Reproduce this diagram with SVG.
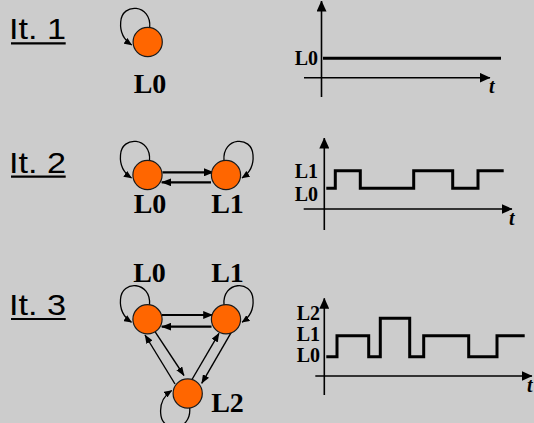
<svg xmlns="http://www.w3.org/2000/svg" width="534" height="423" viewBox="0 0 534 423">
<style>
.bg{fill:#cccccc}
.it{font-family:"Liberation Sans",Arial,sans-serif;font-size:29px;fill:#000}
.ul{stroke:#000;stroke-width:2.2}
.nd{fill:#ff6600;stroke:#1a1a1a;stroke-width:1.2}
.lb{font-family:"Liberation Serif","Times New Roman",serif;font-weight:bold;font-size:28px;fill:#000;text-anchor:middle}
.cl{font-family:"Liberation Serif","Times New Roman",serif;font-weight:bold;font-size:20px;fill:#000;text-anchor:end}
.tt{font-family:"Liberation Serif","Times New Roman",serif;font-style:italic;font-weight:bold;font-size:20px;fill:#000}
.loop{fill:none;stroke:#000;stroke-width:1.3;marker-end:url(#la)}
.h{fill:none;stroke:#000;stroke-width:2.2;marker-end:url(#ha)}
.d{fill:none;stroke:#000;stroke-width:1.4;marker-end:url(#da)}
.ax{fill:none;stroke:#000;stroke-width:1.6;marker-end:url(#aa)}
.sig{fill:none;stroke:#000;stroke-width:3;stroke-linejoin:miter}
</style>
<defs>
<marker id="la" viewBox="0 0 8 7" refX="7.5" refY="3.5" markerWidth="8" markerHeight="7" orient="auto" markerUnits="userSpaceOnUse"><path d="M0,0 L8,3.5 L0,7 z" fill="#000"/></marker>
<marker id="ha" viewBox="0 0 10 8" refX="9.5" refY="4" markerWidth="10" markerHeight="8" orient="auto" markerUnits="userSpaceOnUse"><path d="M0,0 L10,4 L0,8 z" fill="#000"/></marker>
<marker id="da" viewBox="0 0 9 7" refX="8.5" refY="3.5" markerWidth="9" markerHeight="7" orient="auto" markerUnits="userSpaceOnUse"><path d="M0,0 L9,3.5 L0,7 z" fill="#000"/></marker>
<marker id="aa" viewBox="0 0 11 10" refX="10.5" refY="5" markerWidth="11" markerHeight="10" orient="auto" markerUnits="userSpaceOnUse"><path d="M0,0 L11,5 L0,10 z" fill="#000"/></marker>
</defs>
<rect class="bg" x="0" y="0" width="534" height="423"/>

<g id="title1"><text class="it" x="9" y="39" textLength="57" lengthAdjust="spacingAndGlyphs">It. 1</text><line class="ul" x1="11" y1="43.3" x2="65.7" y2="43.3"/></g>
<g id="title2"><text class="it" x="9" y="172.5" textLength="57" lengthAdjust="spacingAndGlyphs">It. 2</text><line class="ul" x1="11" y1="176.7" x2="65.7" y2="176.7"/></g>
<g id="title3"><text class="it" x="9" y="315" textLength="57" lengthAdjust="spacingAndGlyphs">It. 3</text><line class="ul" x1="11" y1="319" x2="65.7" y2="319"/></g>

<g id="connectors">
<!-- It.1 -->
<path class="loop" d="M149.7,27.5 C151.7,4 121.7,2 120.7,22 C119.7,34 125.7,41 131.7,45"/>
<!-- It.2 -->
<path class="loop" d="M149.5,160.5 C151.5,137 121.5,135 120.5,155 C119.5,167 125.5,174 131.5,178"/>
<path class="loop" d="M224,160.5 C222,137 252,135 253,155 C254,167 248,174 242,178"/>
<path class="h" d="M162.5,172.3 L213.5,172.3"/>
<path class="h" d="M211,182.3 L161.7,182.3"/>
<!-- It.3 -->
<path class="loop" d="M149.5,304.8 C151.5,281.3 121.5,279.3 120.5,299.3 C119.5,311.3 125.5,318.3 131.5,322.3"/>
<path class="loop" d="M224,304.8 C222,281.3 252,279.3 253,299.3 C254,311.3 248,318.3 242,322.3"/>
<path class="loop" d="M189.7,408 C191.7,431.5 161.7,433.5 160.7,413.5 C159.7,401.5 165.7,394.5 171.7,390.5"/>
<path class="h" d="M162,315 L212.7,315"/>
<path class="h" d="M211.5,326.7 L161.7,326.7"/>
<path class="d" d="M175,384 L145,335"/>
<path class="d" d="M155,331.7 L184,375.5"/>
<path class="d" d="M191.7,380 L219,333.3"/>
<path class="d" d="M231.7,331.7 L201.7,383.3"/>
</g>

<g id="n1-L0"><circle class="nd" cx="147.7" cy="42" r="14.6"/><text class="lb" x="150" y="93">L0</text></g>
<g id="n2-L0"><circle class="nd" cx="147.5" cy="175" r="14.6"/><text class="lb" x="150" y="212.7">L0</text></g>
<g id="n2-L1"><circle class="nd" cx="226" cy="175" r="14.6"/><text class="lb" x="227.5" y="212.7">L1</text></g>
<g id="n3-L0"><circle class="nd" cx="147.5" cy="319.3" r="14.6"/><text class="lb" x="149.5" y="281.7">L0</text></g>
<g id="n3-L1"><circle class="nd" cx="226" cy="319.3" r="14.6"/><text class="lb" x="227.5" y="281.7">L1</text></g>
<g id="n3-L2"><circle class="nd" cx="187.7" cy="393.5" r="14.6"/><text class="lb" x="227.5" y="411.7">L2</text></g>

<g id="chart1">
<path class="ax" d="M321.5,97 L321.5,1"/>
<path class="ax" d="M304,77.7 L490,77.7"/>
<path class="sig" d="M323,58.3 L501,58.3"/>
<text class="cl" x="318" y="65">L0</text>
<text class="tt" x="489" y="92.7">t</text>
</g>
<g id="chart2">
<path class="ax" d="M324.3,230 L324.3,138"/>
<path class="ax" d="M303.7,209 L512,209"/>
<path class="sig" d="M326.3,188.3 H335.3 V170.7 H360.3 V188.3 H413.7 V170.7 H452.7 V188.3 H478 V170.7 H503.7"/>
<text class="cl" x="318" y="178.3">L1</text>
<text class="cl" x="318" y="200.7">L0</text>
<text class="tt" x="509" y="225">t</text>
</g>
<g id="chart3">
<path class="ax" d="M324.3,395 L324.3,298.3"/>
<path class="ax" d="M315.3,376 L532,376"/>
<path class="sig" d="M326.3,356.7 H337 V335.7 H368.7 V356.7 H380.3 V318.3 H409.7 V356.7 H423.7 V335.7 H468.7 V356.7 H497 V335.7 H524.7"/>
<text class="cl" x="320" y="320">L2</text>
<text class="cl" x="320" y="341">L1</text>
<text class="cl" x="320" y="361.5">L0</text>
<text class="tt" x="527" y="391.7">t</text>
</g>
</svg>
